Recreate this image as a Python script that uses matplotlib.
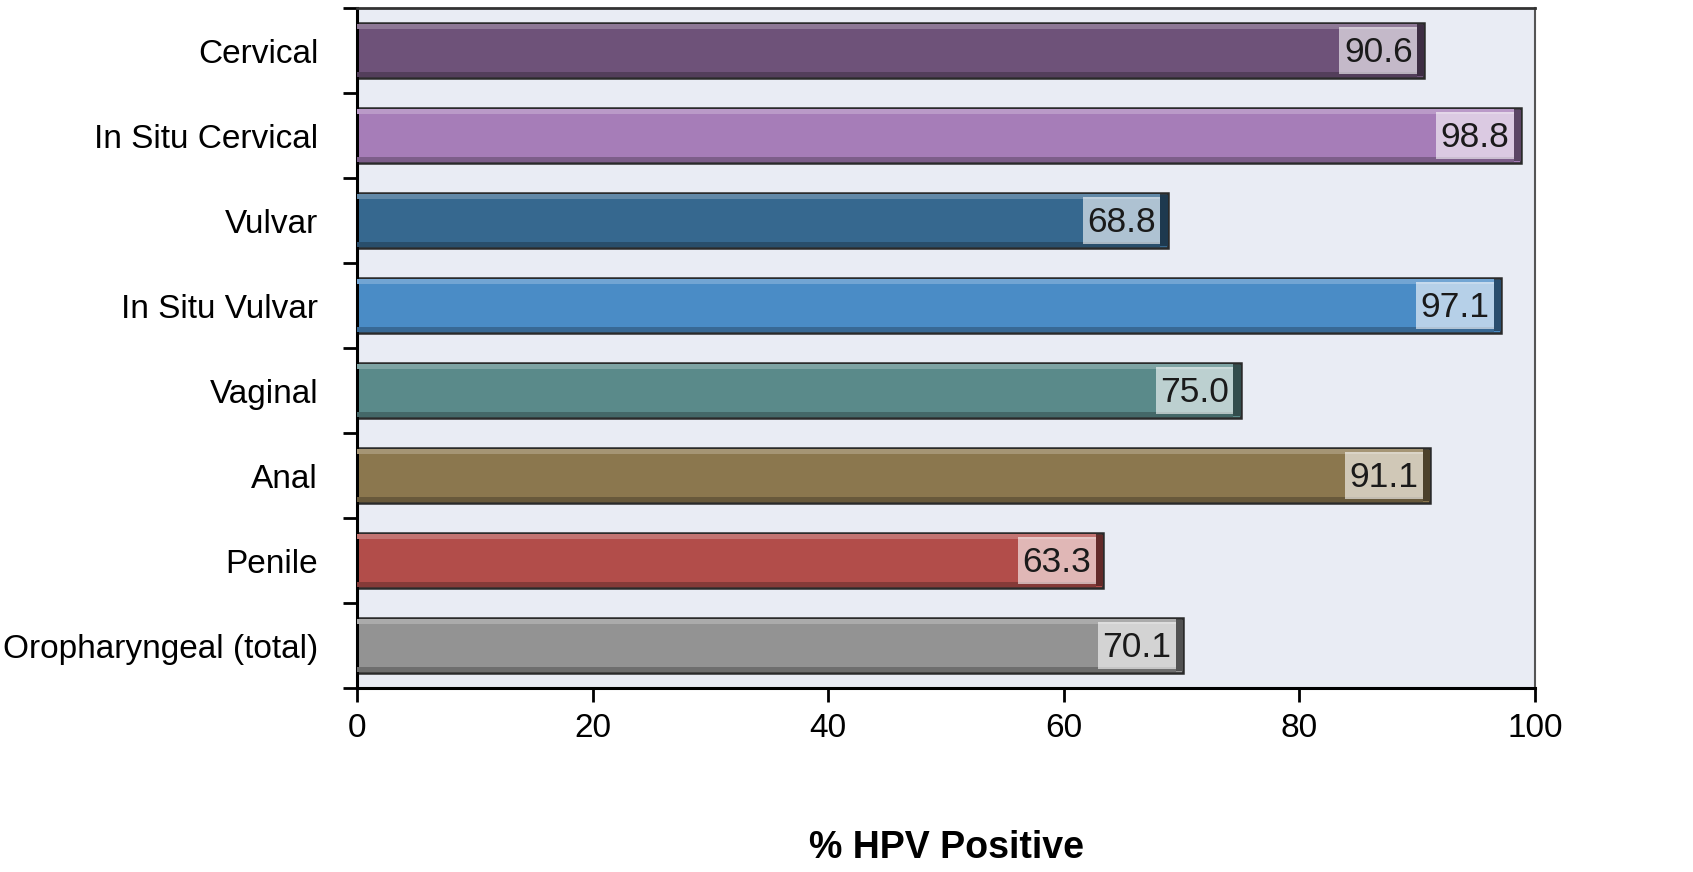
import numpy as np
import matplotlib.pyplot as plt
from matplotlib.colors import to_rgb

plt.rcParams['font.family'] = ['Liberation Sans', 'DejaVu Sans']

categories = ['Cervical', 'In Situ Cervical', 'Vulvar', 'In Situ Vulvar',
              'Vaginal', 'Anal', 'Penile', 'Oropharyngeal (total)']
values = [90.6, 98.8, 68.8, 97.1, 75.0, 91.1, 63.3, 70.1]
colors = ['#6e5279', '#a67db8', '#36688f', '#4a8cc6',
          '#5a8a8a', '#8b774e', '#b24d4a', '#939393']


def shade(c, f):
    r = np.array(to_rgb(c))
    if f > 0:
        return tuple(r + (1 - r) * f)
    return tuple(r * (1 + f))


fig = plt.figure(figsize=(16.93, 8.72), dpi=100)
ax = fig.add_axes([0.2109, 0.211, 0.6958, 0.7798])
ax.set_facecolor('#e9ecf4')

y = np.arange(len(categories))
h = 0.65
for yi, v, c in zip(y, values, colors):
    # main bar
    ax.barh(yi, v, height=h, color=c, edgecolor='#2a2a2a', linewidth=1.8, zorder=2)
    # top highlight and bottom shadow
    ax.barh(yi - h / 2 + 0.04, v - 0.6, height=0.06, color=shade(c, 0.22),
            linewidth=0, zorder=3)
    ax.barh(yi + h / 2 - 0.04, v - 0.6, height=0.06, color=shade(c, -0.25),
            linewidth=0, zorder=3)
    # dark end cap
    ax.barh(yi, 0.6, left=v - 0.6, height=h - 0.04, color=shade(c, -0.45),
            linewidth=0, zorder=3)
    # label box
    ax.barh(yi, 6.6, left=v - 7.2, height=h - 0.1, color='white', alpha=0.6,
            linewidth=0, zorder=4)
    ax.text(v - 3.9, yi + 0.02, f'{v:.1f}', ha='center', va='center',
            fontsize=25.5, color='#1a1a1a', zorder=5)

ax.set_xlim(0, 100)
ax.set_ylim(len(categories) - 0.5, -0.5)
ax.set_xticks(range(0, 101, 20))
ax.set_yticks(y)
ax.set_yticklabels(categories)
ax.set_yticks(np.arange(-0.5, len(categories), 1), minor=True)
ax.tick_params(axis='y', which='major', length=0, pad=28, labelsize=24)
ax.tick_params(axis='y', which='minor', length=10, width=2, direction='out')
ax.tick_params(axis='x', which='major', length=10, width=2, labelsize=24, pad=8)

for s in ['left', 'bottom']:
    ax.spines[s].set_linewidth(2.2)
    ax.spines[s].set_color('black')
ax.spines['top'].set_linewidth(2)
ax.spines['top'].set_color('#333333')
ax.spines['right'].set_linewidth(1.5)
ax.spines['right'].set_color('#555555')

ax.set_xlabel('% HPV Positive', fontsize=27, fontweight='bold', labelpad=62)

fig.savefig('out.png', dpi=100)
